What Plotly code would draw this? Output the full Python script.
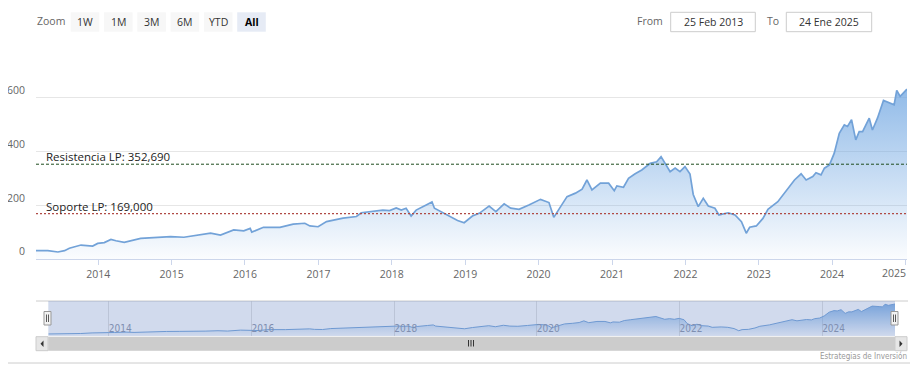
import plotly.graph_objects as go

# ---------------- data ----------------
dates = [
    "2013-02-25", "2013-04-25", "2013-06-14", "2013-07-17", "2013-08-10", "2013-10-07",
    "2013-12-04", "2013-12-29", "2014-01-31", "2014-03-05", "2014-03-30", "2014-05-10",
    "2014-07-31", "2014-10-22", "2014-12-27", "2015-03-03", "2015-05-09", "2015-07-14",
    "2015-09-01", "2015-11-06", "2015-12-26", "2016-01-27", "2016-02-04", "2016-03-16",
    "2016-04-02", "2016-06-23", "2016-08-28", "2016-10-25", "2016-11-19", "2016-12-30",
    "2017-02-10", "2017-05-03", "2017-07-09", "2017-08-02", "2017-09-29", "2017-11-17",
    "2017-12-21", "2018-01-23", "2018-02-17", "2018-03-13", "2018-04-07", "2018-05-02",
    "2018-06-21", "2018-07-20", "2018-08-01", "2018-09-11", "2018-10-14", "2018-11-24",
    "2018-12-27", "2019-02-06", "2019-03-12", "2019-04-30", "2019-06-03", "2019-07-14",
    "2019-08-16", "2019-09-26", "2019-11-14", "2020-01-11", "2020-02-22", "2020-03-17",
    "2020-04-20", "2020-05-22", "2020-07-03", "2020-08-05", "2020-08-29", "2020-09-23",
    "2020-11-04", "2020-12-15", "2021-01-12", "2021-01-25", "2021-02-27", "2021-03-24",
    "2021-04-26", "2021-05-29", "2021-07-10", "2021-08-11", "2021-09-02", "2021-09-22",
    "2021-10-17", "2021-11-11", "2021-12-05", "2021-12-30", "2022-01-24", "2022-02-09",
    "2022-03-06", "2022-03-31", "2022-04-25", "2022-05-28", "2022-06-17", "2022-08-02",
    "2022-09-05", "2022-10-07", "2022-10-31", "2022-11-17", "2022-12-20", "2023-01-22",
    "2023-02-16", "2023-04-06", "2023-05-17", "2023-06-28", "2023-07-31", "2023-08-25",
    "2023-09-27", "2023-10-13", "2023-11-07", "2023-11-24", "2023-12-19", "2024-01-12",
    "2024-02-06", "2024-03-02", "2024-03-18", "2024-04-07", "2024-04-28", "2024-05-15",
    "2024-06-01", "2024-06-26", "2024-07-04", "2024-07-20", "2024-08-14", "2024-09-13",
    "2024-10-19", "2024-11-05", "2024-11-18", "2024-12-05", "2025-01-08",
]
prices = [
    31, 31, 26, 31, 40, 52,
    48, 58, 61, 73, 68, 62,
    77, 81, 83, 81, 88, 96,
    89, 108, 105, 114, 100, 114,
    118, 118, 130, 133, 123, 120,
    139, 152, 158, 172, 176, 182,
    180, 190, 182, 189, 160, 182,
    201, 212, 189, 172, 160, 143,
    135, 160, 170, 197, 176, 205,
    189, 185, 201, 222, 210, 155,
    195, 232, 245, 260, 294, 257,
    282, 282, 254, 272, 267, 300,
    317, 331, 356, 362, 381, 356,
    325, 338, 325, 344, 316, 240,
    195, 226, 197, 189, 164, 172,
    164, 139, 96, 118, 123, 151,
    185, 213, 251, 294, 317, 294,
    307, 321, 313, 338, 350, 394,
    468, 499, 493, 518, 443, 474,
    474, 511, 524, 480, 524, 590,
    580, 574, 627, 605, 632,
]

resistance_value = 352.69
resistance_label = "Resistencia LP: 352,690"
support_value = 169.0
support_label = "Soporte LP: 169,000"

y_tickvals = [0, 200, 400, 600, 800]
y_ticktext = ["0", "200", "400", "600", ""]
last_year_label = "2025"

zoom_buttons = ["1W", "1M", "3M", "6M", "YTD", "All"]
from_date_text = "25 Feb 2013"
to_date_text = "24 Ene 2025"
credits_text = "Estrategias de Inversión"

date_start = "2013-02-25"
date_end = "2025-01-08"

# ---------------- helpers (window pixel -> paper) ----------------
# the page body has an 8px margin on every side; keep the figure inside it
OFF = 8
W, H = 918 - 2 * OFF, 383 - 2 * OFF
FONT = "Open Sans"


def X(p):
    return (p - OFF) / W


def Y(p):
    return 1 - (p - OFF) / H


SERIES_LINE = "#72a2d8"
GRAD = [[0, "rgba(110,165,225,0.03)"], [1, "rgba(110,165,225,0.95)"]]

fig = go.Figure()

# main area series
fig.add_trace(go.Scatter(
    x=dates, y=prices, mode="lines",
    line=dict(color=SERIES_LINE, width=1.7),
    fill="tozeroy",
    fillgradient=dict(type="vertical", colorscale=GRAD, start=0, stop=800),
    hoverinfo="x+y", showlegend=False, xaxis="x", yaxis="y",
))

# navigator series
fig.add_trace(go.Scatter(
    x=dates, y=prices, mode="lines",
    line=dict(color=SERIES_LINE, width=1),
    fill="tozeroy",
    fillgradient=dict(type="vertical", colorscale=GRAD, start=0, stop=692),
    hoverinfo="skip", showlegend=False, xaxis="x2", yaxis="y2",
))

shapes = []
annotations = []

# plot lines (resistance / support)
shapes.append(dict(type="line", xref="x domain", yref="y", x0=0, x1=1,
                   y0=resistance_value, y1=resistance_value,
                   line=dict(color="#1e4d1e", width=1, dash="3px,2px"), layer="above"))
shapes.append(dict(type="line", xref="x domain", yref="y", x0=0, x1=1,
                   y0=support_value, y1=support_value,
                   line=dict(color="#b04a45", width=1.2, dash="2px,2px"), layer="above"))
annotations.append(dict(xref="paper", yref="y", x=X(43.5), y=resistance_value,
                        text=resistance_label, showarrow=False, xanchor="left",
                        yanchor="middle", yshift=7.5,
                        font=dict(family=FONT, size=11.5, color="#222")))
annotations.append(dict(xref="paper", yref="y", x=X(43.5), y=support_value,
                        text=support_label, showarrow=False, xanchor="left",
                        yanchor="middle", yshift=7.5,
                        font=dict(family=FONT, size=11.5, color="#222")))

# last x label, justified inside the plot like the original
annotations.append(dict(xref="paper", yref="paper", x=X(908), y=Y(272.5),
                        text=last_year_label, showarrow=False, xanchor="right",
                        yanchor="middle",
                        font=dict(family=FONT, size=10.5, color="#666")))

# range selector buttons
annotations.append(dict(xref="paper", yref="paper", x=X(34.5), y=Y(21), text="Zoom",
                        showarrow=False, xanchor="left", yanchor="middle",
                        font=dict(family=FONT, size=10.5, color="#666")))
for i, lab in enumerate(zoom_buttons):
    x0 = 70.7 + 33.3 * i
    selected = lab == "All"
    shapes.append(dict(type="rect", xref="paper", yref="paper",
                       x0=X(x0), x1=X(x0 + 28.6), y0=Y(31.7), y1=Y(12.3),
                       fillcolor="#e6ebf5" if selected else "#f7f7f7",
                       line=dict(width=0)))
    annotations.append(dict(xref="paper", yref="paper", x=X(x0 + 14.3), y=Y(21.5),
                            text=f"<b>{lab}</b>" if selected else lab,
                            showarrow=False, xanchor="center", yanchor="middle",
                            font=dict(family=FONT, size=10.5,
                                      color="#000" if selected else "#333")))

# date inputs
annotations.append(dict(xref="paper", yref="paper", x=X(664.5), y=Y(21), text="From",
                        showarrow=False, xanchor="right", yanchor="middle",
                        font=dict(family=FONT, size=10.5, color="#666")))
annotations.append(dict(xref="paper", yref="paper", x=X(781), y=Y(21), text="To",
                        showarrow=False, xanchor="right", yanchor="middle",
                        font=dict(family=FONT, size=10.5, color="#666")))
for (bx0, bx1, txt) in [(670.7, 755.3, from_date_text), (786.3, 871.7, to_date_text)]:
    shapes.append(dict(type="rect", xref="paper", yref="paper",
                       x0=X(bx0), x1=X(bx1), y0=Y(31.7), y1=Y(12.3),
                       fillcolor="white", line=dict(color="#cccccc", width=1)))
    annotations.append(dict(xref="paper", yref="paper", x=X((bx0 + bx1) / 2), y=Y(21.5),
                            text=txt, showarrow=False, xanchor="center", yanchor="middle",
                            font=dict(family=FONT, size=10.5, color="#333")))

# navigator: mask, outline, handles
shapes.append(dict(type="line", xref="paper", yref="paper",
                   x0=X(36), x1=X(908), y0=Y(301), y1=Y(301),
                   line=dict(color="#cccccc", width=1)))
shapes.append(dict(type="rect", xref="paper", yref="paper",
                   x0=X(48.3), x1=X(895), y0=Y(336), y1=Y(301),
                   fillcolor="rgba(102,133,194,0.3)", line=dict(width=0), layer="above"))
for hx in (47.5, 894.5):
    shapes.append(dict(type="rect", xref="paper", yref="paper",
                       x0=X(hx - 3.5), x1=X(hx + 3.5), y0=Y(325), y1=Y(311.5),
                       fillcolor="#f2f2f2", line=dict(color="#999999", width=1),
                       layer="above"))
    for lx in (hx - 1, hx + 1):
        shapes.append(dict(type="line", xref="paper", yref="paper",
                           x0=X(lx), x1=X(lx), y0=Y(322), y1=Y(314.5),
                           line=dict(color="#333333", width=0.8), layer="above"))

# scrollbar
shapes.append(dict(type="rect", xref="paper", yref="paper",
                   x0=X(36), x1=X(907), y0=Y(350.7), y1=Y(336.7),
                   fillcolor="#f2f2f2", line=dict(width=0)))
shapes.append(dict(type="rect", xref="paper", yref="paper",
                   x0=X(48.3), x1=X(895), y0=Y(350.7), y1=Y(336.7),
                   fillcolor="#cccccc", line=dict(width=0)))
for (sx0, sx1) in [(36, 48), (895, 907)]:
    shapes.append(dict(type="rect", xref="paper", yref="paper",
                       x0=X(sx0), x1=X(sx1), y0=Y(350.7), y1=Y(336.7),
                       fillcolor="#e6e6e6", line=dict(color="#cccccc", width=1)))
shapes.append(dict(type="path", xref="paper", yref="paper",
                   path=f"M {X(43.5)} {Y(340.5)} L {X(40.5)} {Y(343.7)} L {X(43.5)} {Y(346.9)} Z",
                   fillcolor="#333333", line=dict(width=0)))
shapes.append(dict(type="path", xref="paper", yref="paper",
                   path=f"M {X(899.5)} {Y(340.5)} L {X(902.5)} {Y(343.7)} L {X(899.5)} {Y(346.9)} Z",
                   fillcolor="#333333", line=dict(width=0)))
for gx in (468.5, 471, 473.5):
    shapes.append(dict(type="line", xref="paper", yref="paper",
                       x0=X(gx), x1=X(gx), y0=Y(346.5), y1=Y(340),
                       line=dict(color="#333333", width=1)))

# bottom separator and credits
shapes.append(dict(type="line", xref="paper", yref="paper",
                   x0=0, x1=1, y0=Y(363), y1=Y(363),
                   line=dict(color="#cccccc", width=1)))
annotations.append(dict(xref="paper", yref="paper", x=X(908.5), y=Y(355.5),
                        text=credits_text, showarrow=False, xanchor="right",
                        yanchor="middle",
                        font=dict(family="DejaVu Sans Condensed, " + FONT, size=8, color="#999")))

fig.update_layout(
    width=W, height=H, autosize=False,
    margin=dict(l=0, r=0, t=0, b=0, autoexpand=False),
    paper_bgcolor="white", plot_bgcolor="white",
    font=dict(family=FONT, size=10, color="#666"),
    showlegend=False,
    hovermode="x",
    xaxis=dict(
        domain=[X(36), X(907)], anchor="y", automargin=False,
        type="date", range=[date_start, date_end],
        showgrid=False, zeroline=False,
        showline=True, linecolor="#ccd6eb", linewidth=1,
        ticks="outside", ticklen=5, tickcolor="#ccd6eb",
        tick0="2014-01-01", dtick="M12", tickformat="%Y",
        tickfont=dict(family=FONT, size=10.5, color="#666"),
        fixedrange=True,
    ),
    yaxis=dict(
        domain=[Y(259), Y(44)], anchor="x", automargin=False,
        range=[0, 800],
        tickvals=y_tickvals, ticktext=y_ticktext,
        showgrid=True, gridcolor="#e6e6e6", gridwidth=1,
        zeroline=False, showline=False, ticks="",
        ticklabelposition="outside top", ticklabelstandoff=10,
        tickfont=dict(family=FONT, size=10.5, color="#666"),
        fixedrange=True,
    ),
    xaxis2=dict(
        domain=[X(48.3), X(895)], anchor="y2", automargin=False,
        type="date", range=[date_start, date_end],
        showgrid=True, gridcolor="#e0e0e0", gridwidth=1,
        zeroline=False, showline=False, ticks="",
        tick0="2014-01-01", dtick="M24", tickformat="%Y",
        ticklabelposition="inside right", ticklabelstandoff=-4,
        tickfont=dict(family="DejaVu Sans Condensed, " + FONT, size=10, color="#8a93a8"),
        fixedrange=True,
    ),
    yaxis2=dict(
        domain=[Y(336), Y(301)], anchor="x2", automargin=False,
        range=[-10, 692], visible=False, fixedrange=True,
    ),
    shapes=shapes,
    annotations=annotations,
)

fig.write_html("out.html")
